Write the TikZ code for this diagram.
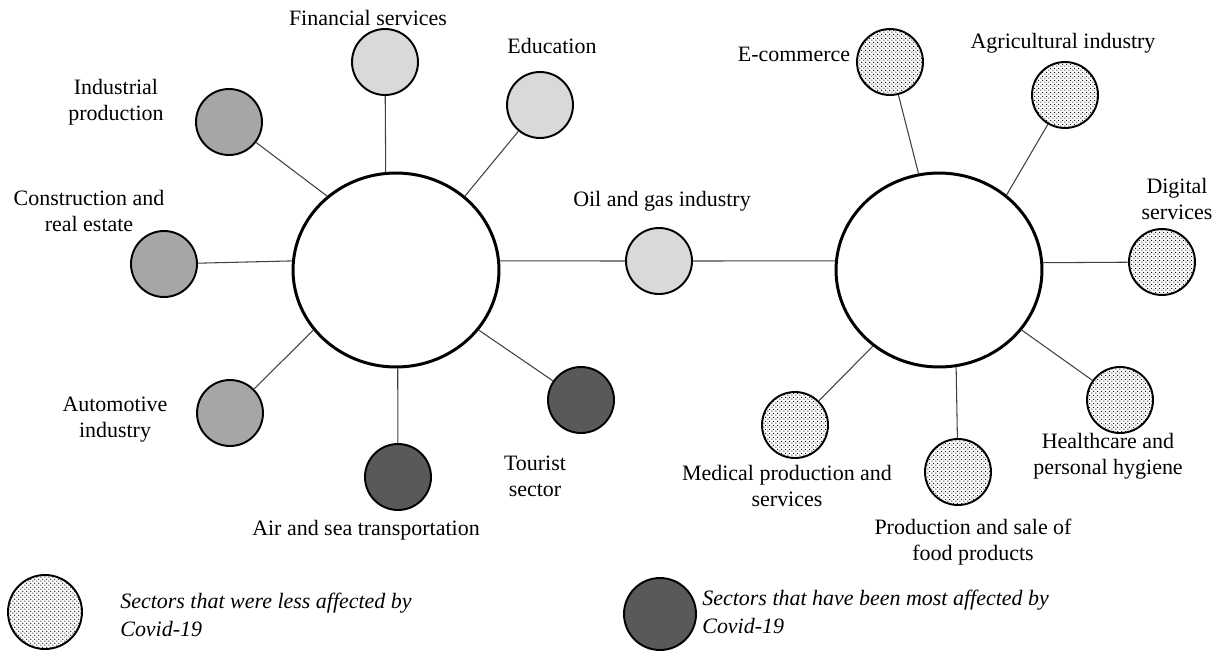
\documentclass[tikz,border=0pt]{standalone}
\usepackage{fontspec}
\setmainfont{Liberation Serif}
\usetikzlibrary{shapes.geometric,patterns}
\definecolor{lightsec}{HTML}{D9D9D9}
\definecolor{mediumsec}{HTML}{A6A6A6}
\definecolor{darksec}{HTML}{595959}
\pgfdeclarepatternformonly{finedots}{\pgfpointorigin}{\pgfpoint{2.4pt}{2.4pt}}{\pgfpoint{2.4pt}{2.4pt}}{
	\pgfpathcircle{\pgfpoint{0.6pt}{0.6pt}}{0.42pt}
	\pgfpathcircle{\pgfpoint{1.8pt}{1.8pt}}{0.42pt}
	\pgfusepath{fill}
}

\begin{document}
\begin{tikzpicture}[x=0.02cm,y=-0.02cm,
	hub/.style={ellipse,draw,line width=1.7pt,minimum width=4.12cm,minimum height=3.88cm,inner sep=0pt},
	sector/.style={circle,draw,line width=1.1pt,minimum size=1.32cm,inner sep=0pt},
	light/.style={sector,fill=lightsec},
	medium/.style={sector,fill=mediumsec},
	dark/.style={sector,fill=darksec},
	calm/.style={sector,pattern=finedots},
	txt/.style={inner sep=0pt,align=center,font=\fontsize{12.5}{14.8}\selectfont},
	keytxt/.style={inner sep=0pt,align=left,anchor=west,font=\fontsize{12.5}{16.2}\selectfont\itshape},
	spoke/.style={draw=black!75,line width=0.6pt}]
	\useasboundingbox (0,0) rectangle (1219,653);
	% hubs
	\node (hubL) at (396,270) [hub] {};
	\node (hubR) at (939,270) [hub] {};
	% sectors around the left hub
	\node (fin) at (385,62) [light] {};
	\node (edu) at (540,105) [light] {};
	\node (ind) at (229,122) [medium] {};
	\node (cons) at (164,264) [medium] {};
	\node (auto) at (230,413) [medium] {};
	\node (air) at (398,477) [dark] {};
	\node (tour) at (581,400) [dark] {};
	\node (oil) at (659,261) [light] {};
	% sectors around the right hub
	\node (ecom) at (890,62) [calm] {};
	\node (agri) at (1065,95) [calm] {};
	\node (digi) at (1162,262) [calm] {};
	\node (health) at (1120,400) [calm] {};
	\node (food) at (958,472) [calm] {};
	\node (med) at (795,425) [calm] {};
	% labels
	\node (lfin) at (368,18) [txt] {Financial services};
	\node (ledu) at (552,46) [txt] {Education};
	\node (lind) at (116,102) [txt] {Industrial\\production};
	\node (lcons) at (89,211) [txt] {Construction and\\real estate};
	\node (lauto) at (115,420) [txt] {Automotive\\industry};
	\node (lair) at (366,530) [txt] {Air and sea transportation};
	\node (ltour) at (535,476) [txt] {Tourist\\sector};
	\node (loil) at (662,201) [txt] {Oil and gas industry};
	\node (lecom) at (794,54) [txt] {E-commerce};
	\node (lagri) at (1063,43) [txt] {Agricultural industry};
	\node (ldigi) at (1177,199) [txt] {Digital\\services};
	\node (lhealth) at (1108,456) [txt] {Healthcare and\\personal hygiene};
	\node (lfood) at (973,542) [txt] {Production and sale of\\food products};
	\node (lmed) at (787,486) [txt] {Medical production and\\services};
	% spokes
	\draw [spoke] (fin) -- (hubL.96);
	\draw [spoke] (edu) -- (hubL.47);
	\draw [spoke] (ind) -- (hubL.133);
	\draw [spoke] (cons) -- (hubL.175);
	\draw [spoke] (auto) -- (hubL.216);
	\draw [spoke] (air) -- (hubL.-89);
	\draw [spoke] (tour) -- (hubL.-36);
	\draw [spoke] (oil) -- (hubL.5);
	\draw [spoke] (oil) -- (hubR.175);
	\draw [spoke] (ecom) -- (hubR.102);
	\draw [spoke] (agri) -- (hubR.48);
	\draw [spoke] (digi) -- (hubR.4);
	\draw [spoke] (health) -- (hubR.-36);
	\draw [spoke] (food) -- (hubR.-80);
	\draw [spoke] (med) -- (hubR.229);
	% legend
	\node (keyless) at (45,612) [calm,minimum size=1.48cm] {};
	\node (lkeyless) at (120,615) [keytxt] {Sectors that were less affected by\\Covid-19};
	\node (keymost) at (660,614) [dark,minimum size=1.44cm] {};
	\node (lkeymost) at (702,612) [keytxt] {Sectors that have been most affected by\\Covid-19};
\end{tikzpicture}
\end{document}
